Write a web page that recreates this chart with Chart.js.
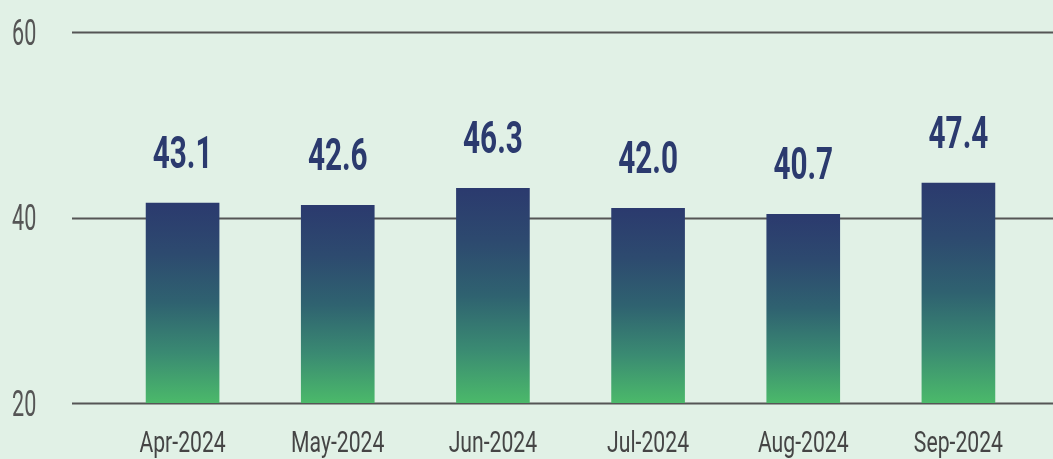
<!DOCTYPE html>
<html>
<head>
<meta charset="utf-8">
<script src="https://cdn.jsdelivr.net/npm/chart.js@4.4.1/dist/chart.umd.min.js"></script>
<style>
  html, body { margin: 0; padding: 0; background: #e1f1e6; }
  #wrap { width: 1053px; height: 459px; }
</style>
</head>
<body>
<div id="wrap"><canvas id="months"></canvas></div>
<script>
const months = ['Apr-2024', 'May-2024', 'Jun-2024', 'Jul-2024', 'Aug-2024', 'Sep-2024'];
const values = [43.1, 42.6, 46.3, 42.0, 40.7, 47.4];
const yTicks = [0, 40, 80];
const yTickLabels = ['20', '40', '60'];

const FONT = "Roboto, 'DejaVu Sans', sans-serif";

// bars fade from navy at the top to green at the base
const barFill = (ctx) => {
    const chart = ctx.chart;
    if (!chart.chartArea || ctx.type !== 'data') return '#2b3a6e';
    const y = chart.scales.y;
    const top = y.getPixelForValue(ctx.raw);
    const bottom = y.getPixelForValue(0);
    const g = chart.ctx.createLinearGradient(0, top, 0, bottom);
    g.addColorStop(0, '#2b3a6e');
    g.addColorStop(0.25, '#2d4a6f');
    g.addColorStop(0.5, '#2f6270');
    g.addColorStop(0.75, '#3a8a72');
    g.addColorStop(1, '#4bb96a');
    return g;
};

// the original uses a condensed face, so text is squeezed sideways
const narrowText = (ctx, text, x, y, sx) => {
    ctx.save();
    ctx.translate(x, y);
    ctx.scale(sx, 1);
    ctx.fillText(text, 0, 0);
    ctx.restore();
};

const gridLines = {
    id: 'gridLines',
    beforeDatasetsDraw(chart) {
        const { ctx, scales: { y } } = chart;
        ctx.save();
        ctx.strokeStyle = '#555555';
        ctx.lineWidth = 2;
        yTicks.forEach((v) => {
            const py = Math.round(y.getPixelForValue(v)) + 0.5;
            ctx.beginPath();
            ctx.moveTo(72, py);
            ctx.lineTo(chart.width, py);
            ctx.stroke();
        });
        ctx.restore();
    },
};

const axisLabels = {
    id: 'axisLabels',
    afterDraw(chart) {
        const { ctx, scales: { x, y } } = chart;
        ctx.save();
        ctx.textBaseline = 'alphabetic';

        ctx.fillStyle = '#555555';
        ctx.font = '36px ' + FONT;
        ctx.textAlign = 'left';
        yTicks.forEach((v, i) => {
            narrowText(ctx, yTickLabels[i], 12, y.getPixelForValue(v) + 12.5, 0.6);
        });

        ctx.fillStyle = '#454545';
        ctx.font = '29px ' + FONT;
        ctx.textAlign = 'center';
        months.forEach((m, i) => {
            narrowText(ctx, m, x.getPixelForTick(i), 452, 0.73);
        });
        ctx.restore();
    },
};

const valueLabels = {
    id: 'valueLabels',
    afterDatasetsDraw(chart) {
        const { ctx } = chart;
        const meta = chart.getDatasetMeta(0);
        ctx.save();
        ctx.fillStyle = '#2b3a6e';
        ctx.font = 'bold 45px ' + FONT;
        ctx.textAlign = 'center';
        ctx.textBaseline = 'alphabetic';
        meta.data.forEach((bar, i) => {
            narrowText(ctx, values[i].toFixed(1), bar.x, bar.y - 35, 0.66);
        });
        ctx.restore();
    },
};

new Chart(document.getElementById('months').getContext('2d'), {
    type: 'bar',
    data: {
        labels: months,
        datasets: [{
            data: values,
            backgroundColor: barFill,
            barThickness: 73,
            borderWidth: 0,
        }],
    },
    options: {
        responsive: true,
        maintainAspectRatio: false,
        animation: false,
        layout: { padding: { top: 32, right: 17, left: 12, bottom: 0 } },
        plugins: { legend: { display: false }, tooltip: { enabled: false } },
        scales: {
            x: {
                grid: { display: false, drawTicks: false },
                border: { display: false },
                ticks: { display: false },
                afterFit: (s) => { s.height = 56; },
            },
            y: {
                min: 0,
                max: 80,
                afterBuildTicks: (s) => { s.ticks = yTicks.map((v) => ({ value: v })); },
                grid: { display: false, drawTicks: false },
                border: { display: false },
                ticks: { display: false },
                afterFit: (s) => { s.width = 93; },
            },
        },
    },
    plugins: [gridLines, axisLabels, valueLabels],
});
</script>
</body>
</html>
